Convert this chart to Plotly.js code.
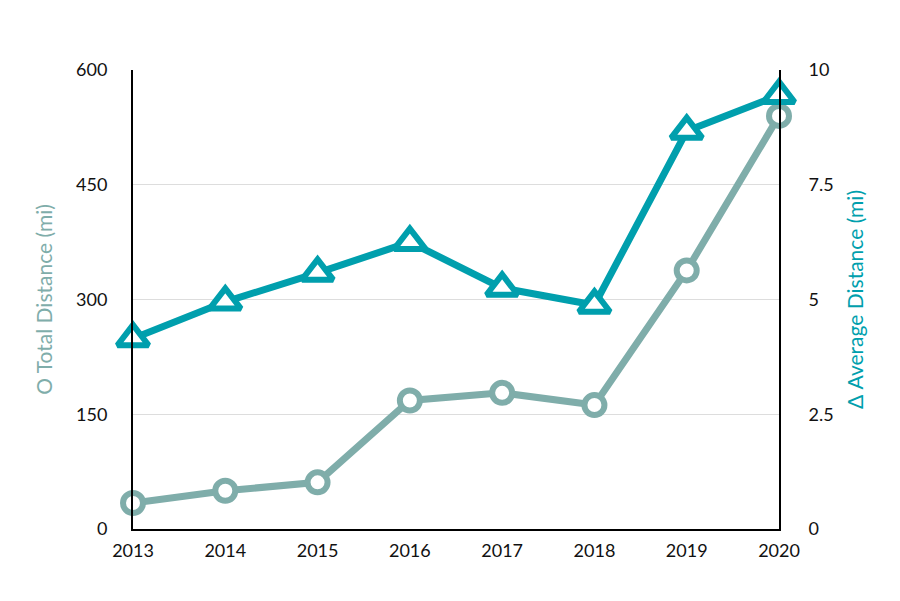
<!DOCTYPE html>
<html><head><meta charset="utf-8">
<script src="https://cdn.plot.ly/plotly-3.0.1.min.js"></script>
<style>body{margin:0;background:#fff}#chart{width:900px;height:601px}</style>
</head><body><div id="chart"></div>
<script>
const years = ['2013','2014','2015','2016','2017','2018','2019','2020'];
const totalDistance = [34, 50, 61, 168, 178, 162, 338, 540];
const averageDistance = [4.15, 4.95, 5.58, 6.25, 5.25, 4.88, 8.67, 9.45];
const leftTicks = [0, 150, 300, 450, 600];
const rightTicks = [0, 2.5, 5, 7.5, 10];

const gray = '#7fadaa';
const teal = '#009fad';

const traces = [
  {x: years, y: totalDistance, type: 'scatter', mode: 'lines+markers', name: 'Total',
   line: {color: gray, width: 7},
   marker: {symbol: 'circle', size: 20, color: '#ffffff', line: {color: gray, width: 6}},
   yaxis: 'y', cliponaxis: false},
  {x: years, y: averageDistance, type: 'scatter', mode: 'lines+markers', name: 'Average',
   line: {color: teal, width: 7},
   marker: {symbol: 'triangle-up', size: 27, color: '#ffffff', line: {color: teal, width: 6}},
   yaxis: 'y2', cliponaxis: false}
];

const layout = {
  width: 900, height: 601,
  margin: {l: 133, r: 121, t: 70, b: 72},
  paper_bgcolor: '#fff', plot_bgcolor: '#fff',
  showlegend: false,
  font: {family: 'Lato, "Open Sans", sans-serif', size: 18, color: '#111'},
  xaxis: {type: 'category', range: [0, 7], showgrid: false, zeroline: false,
          showline: true, linecolor: '#000', linewidth: 2, ticks: '',
          ticklabelstandoff: 4, tickfont: {size: 18}},
  yaxis: {range: [0, 600], tickvals: leftTicks, showgrid: true, gridcolor: '#dddddd',
          gridwidth: 1, zeroline: false, showline: true, linecolor: '#000', linewidth: 2,
          ticks: '', ticklabelstandoff: 20, tickfont: {size: 18},
          title: {text: 'O Total Distance (mi)', font: {size: 21, color: gray}, standoff: 18}},
  yaxis2: {range: [0, 10], tickvals: rightTicks, ticktext: rightTicks.map(String),
           overlaying: 'y', side: 'right', showgrid: false, zeroline: false,
           showline: true, linecolor: '#000', linewidth: 2, ticks: '', ticklabelstandoff: 24,
           tickfont: {size: 18},
           title: {text: 'Δ Average Distance (mi)', font: {size: 21, color: teal}, standoff: 16}}
};

Plotly.newPlot('chart', traces, layout, {displayModeBar: false, staticPlot: true});
</script></body></html>
